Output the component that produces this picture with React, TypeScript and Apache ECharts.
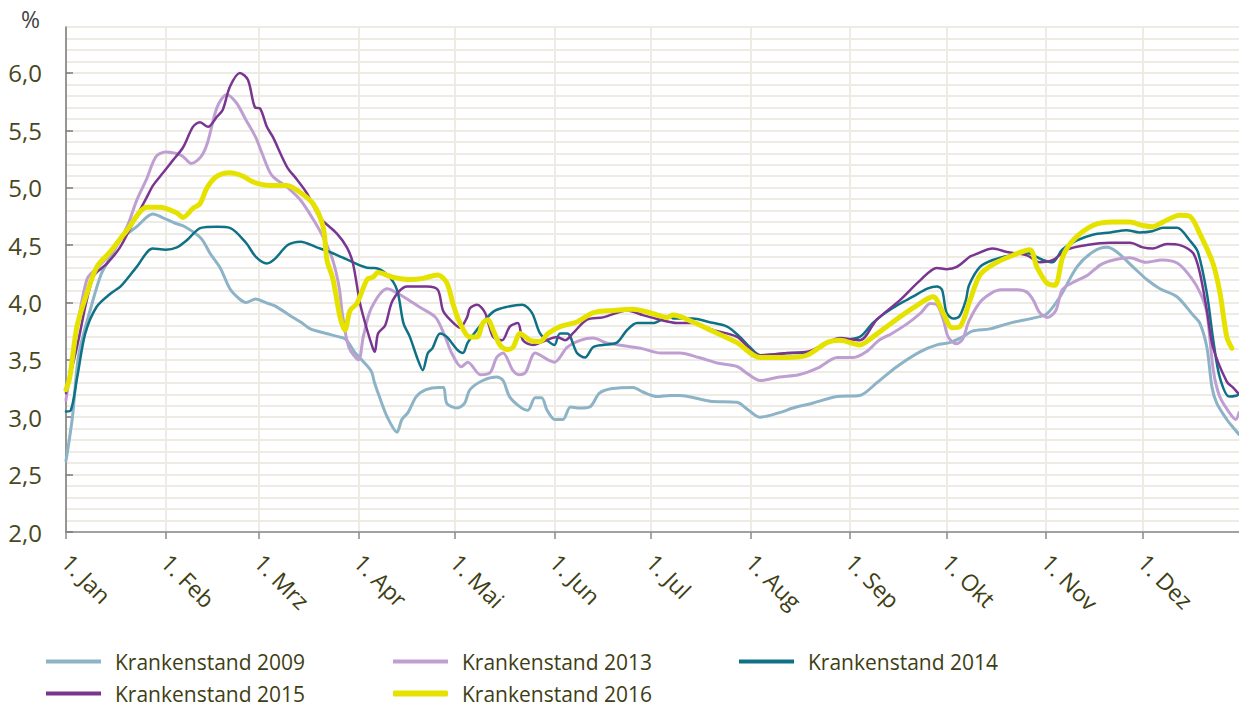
import React, { useEffect, useRef } from "react";
import * as echarts from "echarts";

const monthDays = [0, 31, 60, 91, 121, 152, 182, 213, 244, 274, 305, 335];
const monthLabels = ["1. Jan", "1. Feb", "1. Mrz", "1. Apr", "1. Mai", "1. Jun", "1. Jul", "1. Aug", "1. Sep", "1. Okt", "1. Nov", "1. Dez"];
const yTicks = [2, 2.5, 3, 3.5, 4, 4.5, 5, 5.5, 6];

const seriesNames = ["Krankenstand 2009", "Krankenstand 2013", "Krankenstand 2014", "Krankenstand 2015", "Krankenstand 2016"];
const seriesColors = ["#8db3c6", "#bf9fd2", "#0f7186", "#7a3590", "#e6e200"];
const seriesWidths = [3, 3, 2.5, 2.5, 5];

const data2009 = [[0,2.62],[2,3.0],[4,3.55],[8,3.98],[11,4.25],[14,4.4],[17,4.55],[22,4.66],[25,4.74],[27,4.77],[30,4.74],[34,4.69],[37,4.66],[42,4.56],[45,4.42],[48,4.3],[51,4.12],[54,4.03],[56,4.0],[59,4.03],[62,4.0],[65,3.97],[70,3.88],[73,3.83],[76,3.77],[81,3.73],[85,3.7],[87,3.68],[90,3.56],[92,3.5],[95,3.4],[96,3.3],[97.5,3.18],[100,3.0],[103,2.87],[104.5,2.98],[106.4,3.04],[109,3.18],[112,3.24],[116,3.26],[117.5,3.26],[118.5,3.12],[121.7,3.08],[124,3.12],[125.7,3.24],[129.7,3.32],[134,3.35],[136,3.32],[138,3.18],[141.3,3.09],[143.7,3.06],[146,3.17],[148,3.17],[149.7,3.06],[152.1,2.98],[154.6,2.98],[157,3.09],[159.9,3.08],[163,3.09],[166,3.21],[170,3.25],[176.4,3.26],[179.5,3.22],[184,3.18],[187.9,3.19],[191,3.19],[200.4,3.14],[208.8,3.13],[212,3.07],[215.9,3.0],[222,3.04],[226.2,3.08],[232,3.12],[239.9,3.18],[247,3.19],[252.3,3.3],[258.5,3.44],[265.7,3.57],[271,3.63],[275,3.65],[279,3.7],[282,3.75],[287.5,3.77],[293.7,3.82],[302,3.87],[305.2,3.9],[309.3,4.05],[314.6,4.31],[319.5,4.44],[323.9,4.48],[327,4.44],[332,4.31],[336.3,4.2],[340.4,4.12],[345.7,4.05],[350.7,3.89],[352.8,3.82],[355,3.61],[356.6,3.26],[358.1,3.12],[361.2,2.98],[363.5,2.9],[365,2.85]];

const data2013 = [[0,3.15],[2.5,3.61],[6.5,4.2],[10,4.31],[15,4.46],[19,4.66],[22,4.89],[25,5.07],[28,5.27],[31,5.31],[36,5.28],[39,5.21],[42,5.27],[44,5.39],[47,5.7],[50,5.81],[53,5.74],[56,5.59],[59,5.44],[61,5.3],[64,5.11],[69,5.0],[73,4.89],[77,4.72],[80,4.57],[83,4.37],[85,4.13],[86,3.9],[88,3.61],[91,3.5],[92.5,3.7],[95,3.95],[100,4.12],[105,4.05],[110,3.96],[115,3.87],[118,3.7],[120,3.56],[123,3.44],[125,3.48],[129,3.37],[132,3.39],[134,3.52],[136,3.56],[139,3.41],[141,3.37],[143,3.39],[146,3.56],[150,3.5],[152,3.48],[156,3.61],[160,3.67],[164,3.69],[168,3.65],[172,3.63],[179,3.6],[185,3.56],[191,3.56],[197,3.52],[203,3.47],[209,3.44],[212,3.38],[216,3.32],[222,3.35],[228,3.37],[234,3.43],[240,3.52],[245,3.52],[249,3.57],[253,3.67],[257,3.73],[262,3.82],[266,3.91],[269,3.99],[271,3.98],[273,3.85],[274.5,3.7],[277,3.64],[279,3.68],[281,3.84],[285,4.02],[291,4.11],[296,4.11],[299,4.09],[301,4.02],[303,3.91],[305.5,3.87],[308,3.93],[310,4.11],[313,4.17],[318,4.24],[322,4.33],[326,4.37],[331,4.39],[336,4.35],[341,4.37],[346,4.34],[350,4.22],[353,4.08],[355,3.91],[357,3.41],[359,3.18],[362,3.04],[364,2.98],[365,3.04]];

const data2014 = [[0,3.05],[1.5,3.06],[3.5,3.35],[6,3.73],[9.5,3.96],[14,4.08],[17,4.14],[22,4.31],[27,4.47],[31,4.46],[34.5,4.48],[37.5,4.54],[42,4.65],[47,4.66],[51,4.65],[56,4.52],[59,4.4],[62.5,4.34],[65,4.38],[69,4.5],[73,4.53],[78,4.48],[82,4.44],[87,4.38],[94.6,4.3],[96,4.3],[100,4.24],[103,4.11],[105,3.82],[107,3.7],[109.5,3.5],[111,3.41],[112.6,3.56],[114,3.6],[116.4,3.73],[118.5,3.7],[121.7,3.59],[123.5,3.56],[125,3.65],[129,3.8],[133,3.92],[137,3.96],[142,3.98],[145,3.91],[147.5,3.73],[150.6,3.65],[152,3.63],[153.7,3.73],[156,3.73],[159,3.56],[161.5,3.52],[164,3.61],[167,3.63],[171.4,3.65],[174.6,3.76],[177.7,3.82],[182.6,3.82],[187.9,3.88],[189,3.86],[195,3.86],[200,3.83],[205.7,3.79],[209.7,3.7],[212.8,3.61],[216,3.54],[226,3.56],[231,3.56],[237,3.65],[241,3.67],[247,3.7],[251,3.82],[255,3.91],[259.5,3.99],[263.5,4.05],[268,4.12],[271,4.14],[272.6,4.11],[274,3.91],[276,3.86],[278,3.88],[280,4.02],[281,4.15],[284.4,4.31],[288.4,4.37],[293.7,4.41],[299,4.43],[304,4.37],[307,4.35],[310,4.46],[314.6,4.54],[319.5,4.59],[325,4.61],[330,4.63],[334,4.61],[338,4.62],[341.3,4.65],[345.7,4.65],[349.7,4.54],[352.2,4.44],[355,4.08],[357,3.67],[359,3.35],[362,3.18],[364.4,3.19],[365,3.2]];

const data2015 = [[0,3.21],[3.4,3.61],[8.4,4.22],[12.8,4.34],[16.8,4.48],[20.8,4.69],[25.2,4.92],[27.1,5.02],[30.2,5.13],[33.3,5.24],[36.4,5.35],[39.5,5.53],[41.7,5.57],[44.2,5.53],[47,5.62],[48.8,5.68],[51,5.88],[54.1,6.0],[56.6,5.94],[58.8,5.7],[60.4,5.69],[62.5,5.53],[64.4,5.44],[68.8,5.18],[71.9,5.07],[75,4.95],[79,4.74],[84.3,4.6],[87.4,4.48],[89.3,4.34],[91.5,3.99],[93.7,3.76],[95.5,3.6],[96.1,3.57],[97.1,3.73],[99.3,3.8],[101.7,4.02],[106.1,4.14],[112.3,4.14],[115.7,4.11],[117.3,3.93],[119.5,3.85],[122.6,3.78],[124.8,3.87],[125.7,3.95],[127.9,3.98],[130.4,3.91],[132.9,3.7],[135.7,3.67],[138.1,3.79],[140.6,3.82],[142.2,3.67],[145.3,3.63],[148.4,3.66],[152.8,3.7],[155.3,3.67],[157.7,3.73],[162.1,3.85],[167.1,3.87],[174.6,3.93],[179.5,3.89],[184.8,3.85],[187.9,3.83],[190,3.82],[195,3.82],[201.3,3.76],[208.8,3.7],[215.9,3.54],[224.3,3.56],[230.6,3.57],[236.8,3.65],[240.8,3.69],[247,3.67],[252.3,3.85],[259.5,4.02],[265.7,4.19],[271,4.3],[274,4.29],[277.2,4.31],[281.3,4.4],[282.2,4.41],[288.4,4.47],[292.8,4.44],[299,4.41],[303.1,4.35],[307.1,4.37],[311.5,4.46],[317.7,4.5],[324.8,4.52],[331.1,4.52],[335.1,4.48],[338.2,4.47],[342.6,4.51],[346.6,4.5],[350.7,4.43],[352.8,4.26],[355,3.93],[356.9,3.61],[361.2,3.31],[363.1,3.26],[364.7,3.21]];

const data2016 = [[0,3.24],[1.2,3.35],[3.4,3.79],[6.5,4.08],[9.6,4.31],[13.7,4.44],[19,4.63],[25.2,4.83],[29.2,4.83],[34.5,4.78],[36.4,4.74],[39.5,4.82],[41.7,4.86],[43.9,5.0],[47,5.1],[51,5.13],[55.1,5.1],[58.2,5.05],[63.5,5.02],[68.8,5.02],[72.8,4.96],[76.9,4.86],[80,4.66],[81.2,4.37],[83.1,4.2],[85.3,3.87],[86.8,3.76],[88.4,3.93],[90.5,3.99],[93.7,4.2],[95.5,4.22],[97.1,4.26],[101.7,4.22],[107,4.2],[111.1,4.21],[115.7,4.24],[118.5,4.17],[120.4,3.99],[122.6,3.82],[125.7,3.7],[127.9,3.7],[129.7,3.82],[131.3,3.85],[132.9,3.76],[135,3.63],[137.2,3.59],[139.1,3.61],[141.3,3.73],[144.4,3.67],[147.5,3.66],[150,3.73],[153.7,3.79],[159,3.83],[164,3.91],[170.2,3.93],[176.4,3.94],[181.7,3.91],[187,3.87],[188.9,3.89],[195.1,3.83],[200.4,3.76],[208.8,3.65],[215.9,3.52],[224.3,3.52],[230.6,3.54],[236.8,3.65],[240.8,3.67],[247,3.63],[251.1,3.7],[257.3,3.83],[263.5,3.95],[269.8,4.05],[272.9,3.91],[275.7,3.78],[278.2,3.79],[281.3,4.02],[284.4,4.24],[288.4,4.33],[293.7,4.4],[299.9,4.46],[302.1,4.31],[305.2,4.17],[307.7,4.15],[310.2,4.4],[313.3,4.54],[319.5,4.67],[325.8,4.7],[331.1,4.7],[335.1,4.67],[338.2,4.66],[341.3,4.7],[346.6,4.76],[349.7,4.75],[352.8,4.6],[356.9,4.34],[359.1,4.08],[361.2,3.7],[362.8,3.6]];

const allData = [data2009, data2013, data2014, data2015, data2016];

const FONT = "'Open Sans', 'Noto Sans', sans-serif";
const TEXT_COLOR = "#3e3e14";
const GRID_COLOR = "#eeebe4";

// legend positions: [left, top] per series
const legendPos: [number, number][] = [[46, 651], [393, 651], [739, 651], [46, 683], [393, 683]];

export default function App() {
  const ref = useRef<HTMLDivElement>(null);
  useEffect(() => {
    document.body.style.margin = "0";
    if (!ref.current) return;
    const chart = echarts.init(ref.current, null, { renderer: "svg" });
    const option: any = {
      animation: false,
      backgroundColor: "#ffffff",
      textStyle: { fontFamily: FONT },
      grid: { left: 66, right: 0, top: 27, bottom: 175, containLabel: false },
      graphic: [
        { type: "text", left: 21, top: 7, style: { text: "%", fontSize: 23, fill: "#444444", fontFamily: FONT } },
      ],
      legend: seriesNames.map((name, i) => ({
        left: legendPos[i][0],
        top: legendPos[i][1],
        padding: 0,
        data: [{ name, icon: i === 4 ? "roundRect" : "rect" }],
        itemWidth: 55,
        itemHeight: i === 4 ? 6 : 4,
        itemGap: 15,
        selectedMode: false,
        textStyle: { fontSize: 21, color: TEXT_COLOR, fontFamily: FONT, padding: [0, 0, 0, 9] },
      })),
      xAxis: {
        type: "value",
        min: 0,
        max: 365,
        axisLine: { show: true, lineStyle: { color: "#8a8a8a", width: 1.5 } },
        axisTick: { show: true, customValues: monthDays, length: 7, lineStyle: { color: "#8a8a8a", width: 1.5 } },
        axisLabel: {
          customValues: monthDays,
          formatter: (v: number) => {
            const idx = monthDays.indexOf(Math.round(v));
            return idx >= 0 ? monthLabels[idx] : "";
          },
          rotate: -45,
          margin: 26,
          fontSize: 23,
          color: TEXT_COLOR,
          fontFamily: FONT,
        },
        splitLine: { show: true, lineStyle: { color: GRID_COLOR, width: 2 } },
      },
      yAxis: [
        {
          type: "value",
          min: 2,
          max: 6.4,
          interval: 0.1,
          axisLine: { show: false },
          axisTick: { show: false },
          axisLabel: { show: false },
          splitLine: { show: true, lineStyle: { color: GRID_COLOR, width: 2 } },
        },
        {
          type: "value",
          position: "left",
          min: 2,
          max: 6.4,
          interval: 0.5,
          axisLine: { show: true, lineStyle: { color: "#7a7a7a", width: 1.5 } },
          axisTick: { show: true, inside: true, customValues: yTicks, length: 7, lineStyle: { color: "#7a7a7a", width: 1.5 } },
          axisLabel: {
            customValues: yTicks,
            formatter: (v: number) => v.toFixed(1).replace(".", ","),
            margin: 24,
            fontSize: 24,
            color: "#48481c",
            fontFamily: FONT,
          },
          splitLine: { show: false },
        },
      ],
      series: seriesNames.map((name, i) => ({
        name,
        type: "line",
        yAxisIndex: 0,
        data: allData[i],
        symbol: "none",
        smooth: 0.3,
        color: seriesColors[i],
        lineStyle: { color: seriesColors[i], width: seriesWidths[i], cap: "round", join: "round" },
        z: 2 + i,
      })),
    };
    chart.setOption(option);
    return () => chart.dispose();
  }, []);
  return <div ref={ref} style={{ width: 1239, height: 707 }} />;
}
